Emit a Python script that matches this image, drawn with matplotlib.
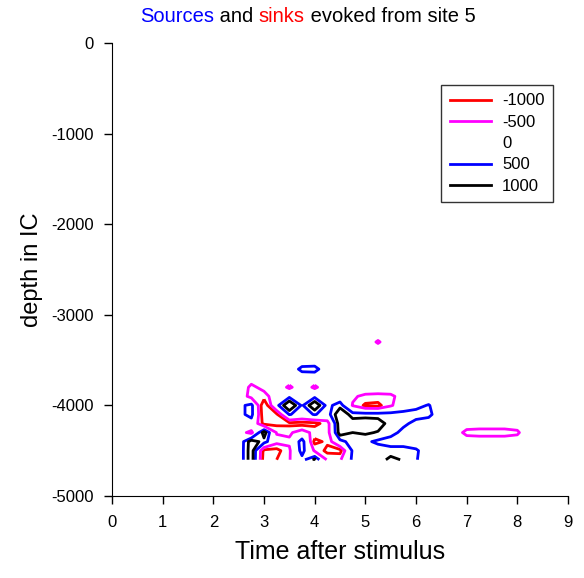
import matplotlib
matplotlib.use("Agg")
import matplotlib.pyplot as plt
import numpy as np
from matplotlib.lines import Line2D

plt.rcParams["font.family"] = ["Liberation Sans", "DejaVu Sans"]
plt.rcParams["axes.unicode_minus"] = False

# ---------------------------------------------------------------------------
# Data: current source density (rows = depth, cols = time)
# ---------------------------------------------------------------------------
TIMES = [2.25, 2.5, 2.75, 3.0, 3.25, 3.5, 3.75, 4.0, 4.25, 4.5, 4.75, 5.0, 5.25,
         5.5, 5.75, 6.0, 6.25, 6.5, 6.75, 7.0, 7.25, 7.5, 7.75, 8.0, 8.25]
DEPTHS = [-3200, -3300, -3400, -3500, -3600, -3700, -3800, -3900, -4000,
          -4100, -4200, -4300, -4400, -4500, -4600]
CSD = [
    [0, 0, 0, 0, 0, 0, 0, 0, 0, 0, 0, 0, 0, 0, 0, 0, 0, 0, 0, 0, 0, 0, 0, 0, 0],
    [0, 0, 0, 0, 0, 0, 0, 0, 0, 0, 0, 0, -600, 0, 0, 0, 0, 0, 0, 0, 0, 0, 0, 0, 0],
    [0, 0, 0, 0, 0, 0, 0, 0, 0, 0, 0, 0, 0, 0, 0, 0, 0, 0, 0, 0, 0, 0, 0, 0, 0],
    [0, 0, 0, 0, 0, 0, 0, 0, 0, 0, 0, 0, 0, 0, 0, 0, 0, 0, 0, 0, 0, 0, 0, 0, 0],
    [0, 0, 0, 0, 0, 0, 700, 750, 0, 0, 0, 0, 0, 0, 0, 0, 0, 0, 0, 0, 0, 0, 0, 0, 0],
    [0, 0, -200, 0, 0, 0, 0, 0, 0, 0, 0, 0, 0, 0, 0, 0, 0, 0, 0, 0, 0, 0, 0, 0, 0],
    [0, 0, -650, -300, 0, -650, 0, -650, 0, 0, 0, 0, 0, 0, 0, 0, 0, 0, 0, 0, 0, 0, 0, 0, 0],
    [0, 0, -750, -750, -100, 350, 100, 350, 100, 0, -400, -650, -700, -650, -200,
     0, 0, 0, 0, 0, 0, 0, 0, 0, 0],
    [0, 300, 700, -1500, 300, 1600, 400, 1500, 300, 800, -550, -1100, -1150, -600, 0,
     300, 550, 0, 0, 0, 0, 0, 0, 0, 0],
    [0, 300, 700, -1400, -1100, 550, 200, 550, 200, 1500, 750, 750, 750, 750, 750,
     750, 650, 100, 0, 0, 0, 0, 0, 0, 0],
    [0, 100, 200, -1200, -1150, -1150, -1200, -1150, -800, 1400, 1300, 1400, 1300, 750, 650,
     300, 200, 0, -200, -200, -200, -200, -200, -200, 0],
    [0, -200, -700, 1300, -550, -600, -200, -700, -800, 1300, 1000, 1100, 950, 750, 300,
     100, -100, -100, -200, -650, -700, -700, -700, -600, 0],
    [0, 0, 1300, 800, -300, -400, 800, -1150, -900, 300, 750, 600, 400, 200, 200,
     100, 0, 0, -200, -200, -200, -200, -200, -200, 0],
    [0, 0, 1350, -1200, -1200, -600, 750, -600, -1150, -1200, 600, 650, 750, 750, 750,
     600, 100, 0, 0, 0, 0, 0, 0, 0, 0],
    [0, 0, 1350, -1300, -1000, -550, 300, 1150, -600, -600, 650, 650, 750, 1150, 950,
     550, 100, 0, 0, 0, 0, 0, 0, 0, 0],
]
LEVELS = [-1000, -500, 500, 1000]
LEVEL_COLORS = ["#ff0000", "#ff00ff", "#0000ff", "#000000"]
LEGEND_LABELS = ["-1000", "-500", "0", "500", "1000"]
LEGEND_COLORS = ["#ff0000", "#ff00ff", "none", "#0000ff", "#000000"]

# ---------------------------------------------------------------------------
# Plot
# ---------------------------------------------------------------------------
fig = plt.figure(figsize=(5.84, 5.78), dpi=100)
ax = fig.add_axes([0.1918, 0.1419, 0.7808, 0.7837])

T, D = np.meshgrid(TIMES, DEPTHS)
ax.contour(T, D, np.array(CSD, dtype=float), levels=LEVELS,
           colors=LEVEL_COLORS, linewidths=2.0)

ax.set_xlim(0, 9)
ax.set_ylim(-5000, 0)
ax.set_xticks(range(0, 10))
ax.set_yticks(range(-5000, 1, 1000))
ax.tick_params(direction="out", length=6, width=1, labelsize=12)
ax.tick_params(axis="x", pad=8)
ax.tick_params(axis="y", pad=7)
for side in ("top", "right"):
    ax.spines[side].set_visible(False)

ax.set_xlabel("Time after stimulus", fontsize=18, labelpad=7)
ax.set_ylabel("depth in IC", fontsize=17, labelpad=6)

handles = [Line2D([], [], color=c, lw=2.0) for c in LEGEND_COLORS]
leg = ax.legend(handles, LEGEND_LABELS, loc="upper right",
                bbox_to_anchor=(0.967, 0.907), borderaxespad=0, fontsize=12,
                frameon=True, fancybox=False, edgecolor="black",
                handlelength=2.5, handletextpad=0.65, labelspacing=0.38,
                borderpad=0.5)
leg.get_frame().set_linewidth(1.0)

# multicoloured title
parts = [("Sources", "#0000ff"), (" and ", "black"), ("sinks", "#ff0000"),
         (" evoked from site 5", "black")]
prev = fig.text(0.2397, 0.962, parts[0][0], color=parts[0][1], fontsize=14.5,
                va="baseline")
for txt, col in parts[1:]:
    prev = ax.annotate(txt, xy=(1, 0), xycoords=prev, va="bottom",
                       color=col, fontsize=14.5)

fig.savefig("out.png", dpi=100)
